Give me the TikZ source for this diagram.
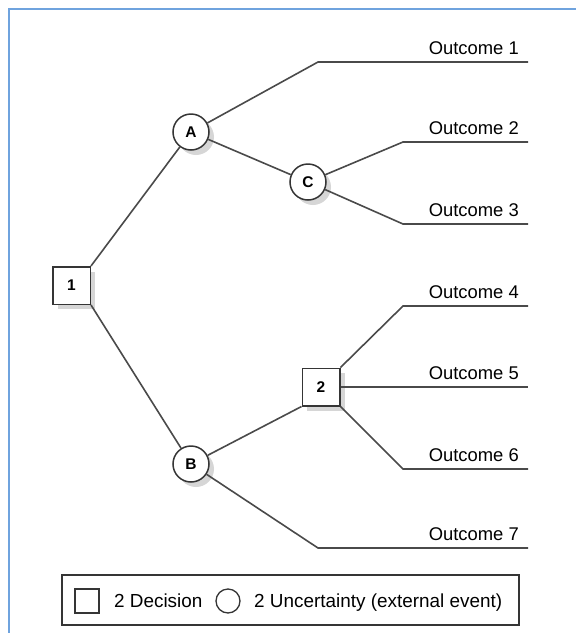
\documentclass[tikz,border=0pt]{standalone}
\usepackage{fontspec}
\setmainfont{Liberation Sans}
\usetikzlibrary{shadows}
\definecolor{frameblue}{HTML}{6FA3DE}
\definecolor{linegray}{HTML}{4A4A4A}
\definecolor{edgegray}{HTML}{353535}
\tikzset{
  branch/.style={draw=linegray, line width=1.6pt},
  shadowed/.style={drop shadow={shadow xshift=5pt, shadow yshift=-5pt, fill=black!16, opacity=1}},
  decision/.style={rectangle, draw=edgegray, line width=1.5pt, fill=white, minimum size=37.5pt, inner sep=0pt,
    font=\fontsize{15.5}{18}\selectfont\bfseries, shadowed},
  chance/.style={circle, draw=edgegray, line width=1.5pt, fill=white, minimum size=36pt, inner sep=0pt,
    font=\fontsize{15.5}{18}\selectfont\bfseries, shadowed},
  outlbl/.style={anchor=base east, inner sep=0pt, font=\fontsize{18.4}{20}\selectfont},
  legtext/.style={anchor=base west, inner sep=0pt, font=\fontsize{18.9}{20}\selectfont}
}
\begin{document}
\begin{tikzpicture}[x=1pt, y=-1pt]
  \useasboundingbox (0,0) rectangle (576,633);
  % page frame, open to the right and bottom
  \draw[frameblue, line width=2.2pt] (9,633) -- (9,9) -- (576,9);

  % decision and chance nodes
  \node[decision] (n1) at (71.5,285.5) {1};
  \node[chance]   (A)  at (191,132) {A};
  \node[chance]   (C)  at (308,182) {C};
  \node[chance]   (B)  at (191,464) {B};
  \node[decision] (n2) at (321,387) {2};

  % bend points and free ends of the outcome branches
  \coordinate (b1) at (318,62);  \coordinate (e1) at (528,62);
  \coordinate (b2) at (403,142); \coordinate (e2) at (528,142);
  \coordinate (b3) at (403,224); \coordinate (e3) at (528,224);
  \coordinate (b4) at (403,306); \coordinate (e4) at (528,306);
  \coordinate (e5) at (528,387);
  \coordinate (b6) at (403,469); \coordinate (e6) at (528,469);
  \coordinate (b7) at (318,548); \coordinate (e7) at (528,548);

  % branches
  \draw[branch] (n1.north east) -- (A);
  \draw[branch] (n1.south east) -- (B);
  \draw[branch] (A) -- (b1) -- (e1);
  \draw[branch] (A) -- (C);
  \draw[branch] (C) -- (b2) -- (e2);
  \draw[branch] (C) -- (b3) -- (e3);
  \draw[branch] (B) -- (n2.south west);
  \draw[branch] (n2.north east) -- (b4) -- (e4);
  \draw[branch] (n2.east) -- (e5);
  \draw[branch] (n2.south east) -- (b6) -- (e6);
  \draw[branch] (B) -- (b7) -- (e7);

  % outcome labels
  \node[outlbl] (o1) at (519,54)  {Outcome 1};
  \node[outlbl] (o2) at (519,134) {Outcome 2};
  \node[outlbl] (o3) at (519,216) {Outcome 3};
  \node[outlbl] (o4) at (519,298) {Outcome 4};
  \node[outlbl] (o5) at (519,379) {Outcome 5};
  \node[outlbl] (o6) at (519,461) {Outcome 6};
  \node[outlbl] (o7) at (519,540) {Outcome 7};

  % legend
  \node[draw=edgegray, line width=1.5pt, minimum width=457pt, minimum height=50pt, inner sep=0pt]
    (leg) at (290.5,600) {};
  \node[draw=edgegray, line width=1.3pt, minimum size=24pt, inner sep=0pt] (legsq) at (87,601) {};
  \node[legtext] (legdec) at (114,607.5) {2 Decision};
  \node[circle, draw=edgegray, line width=1.3pt, minimum size=24pt, inner sep=0pt] (legci) at (228,601) {};
  \node[legtext] (legunc) at (254,607.5) {2 Uncertainty (external event)};
\end{tikzpicture}
\end{document}
